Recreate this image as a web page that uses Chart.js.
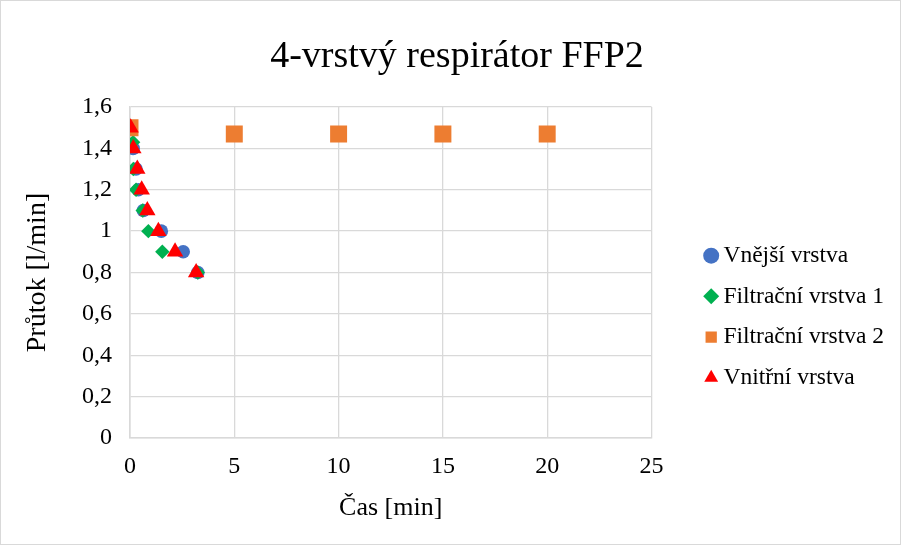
<!DOCTYPE html>
<html>
<head>
<meta charset="utf-8">
<script src="https://cdn.jsdelivr.net/npm/chart.js@4"></script>
<style>
  html, body { margin: 0; padding: 0; background: #fff; }
  #box { width: 899px; height: 543px; border: 1px solid #d9d9d9; }
</style>
</head>
<body>
<div id="box"><canvas id="graf"></canvas></div>
<script>
// data
const nazvy = ["Vnější vrstva", "Filtrační vrstva 1", "Filtrační vrstva 2", "Vnitřní vrstva"];

const vnejsiCas = [0.15, 0.29, 0.4, 0.64, 1.5, 2.55, 3.25];
const vnejsiPrutok = [1.4, 1.3, 1.2, 1.1, 1.0, 0.9, 0.8];

const filtr1Cas = [0.15, 0.16, 0.29, 0.61, 0.88, 1.55, 3.25];
const filtr1Prutok = [1.43, 1.3, 1.2, 1.1, 1.0, 0.9, 0.8];

const filtr2Cas = [0, 5, 10, 15, 20];
const filtr2Prutok = [1.5, 1.47, 1.47, 1.47, 1.47];

const vnitrniCas = [0.03, 0.16, 0.35, 0.56, 0.83, 1.36, 2.16, 3.17];
const vnitrniPrutok = [1.5, 1.4, 1.3, 1.2, 1.1, 1.0, 0.9, 0.8];

const xTicks = [0, 5, 10, 15, 20, 25];
const yTicks = [0, 0.2, 0.4, 0.6, 0.8, 1, 1.2, 1.4, 1.6];

// spojí x a y do bodů pro scatter
const body = (xs, ys) => xs.map((x, i) => ({ x: x, y: ys[i] }));

const pismo = "'Liberation Serif', 'Times New Roman', serif";
const mrizka = '#d9d9d9';
const mezeraLegendy = 42; // mezera mezi plochou grafu a legendou

// legenda je o kus širší a její položky se posunou doprava
const posunLegendy = {
  id: 'posunLegendy',
  beforeLayout(chart) {
    const lg = chart.legend;
    if (!lg || lg._rozsireno) return;
    const puvodniFit = lg.fit.bind(lg);
    lg.fit = function () { puvodniFit(); this.width += mezeraLegendy; };
    lg._rozsireno = true;
  },
  afterLayout(chart) {
    if (chart.legend) chart.legend.left += mezeraLegendy;
  }
};

new Chart(document.getElementById('graf'), {
  type: 'scatter',
  data: {
    datasets: [
      { label: nazvy[0], data: body(vnejsiCas, vnejsiPrutok), pointStyle: 'circle', pointRadius: 6.8,
        backgroundColor: '#4472C4', borderWidth: 0, order: 3 },
      { label: nazvy[1], data: body(filtr1Cas, filtr1Prutok), pointStyle: 'rectRot', pointRadius: 7.2,
        backgroundColor: '#00B050', borderWidth: 0, order: 2 },
      { label: nazvy[2], data: body(filtr2Cas, filtr2Prutok), pointStyle: 'rect', pointRadius: 12,
        backgroundColor: '#ED7D31', borderWidth: 0, order: 1 },
      { label: nazvy[3], data: body(vnitrniCas, vnitrniPrutok), pointStyle: 'triangle', pointRadius: 9.5,
        backgroundColor: '#FF0000', borderWidth: 0, order: 0 }
    ]
  },
  plugins: [posunLegendy],
  options: {
    responsive: true,
    maintainAspectRatio: false,
    animation: false,
    events: [],
    layout: { padding: { left: 19, right: 6, top: 0, bottom: 20 } },
    plugins: {
      tooltip: { enabled: false },
      title: {
        display: true,
        text: '4-vrstvý respirátor FFP2',
        color: '#000',
        font: { family: pismo, size: 38, weight: 'normal' },
        padding: { top: 33, bottom: 27.4 }
      },
      legend: {
        position: 'right',
        align: 'center',
        // prázdný titulek jen posouvá legendu dolů
        title: { display: true, text: '', padding: { top: 0, bottom: 94 } },
        labels: {
          usePointStyle: true,
          boxWidth: 1,
          boxHeight: 11.3,
          padding: 17.2,
          color: '#000',
          font: { family: pismo, size: 23.5 },
          sort: (a, b) => a.datasetIndex - b.datasetIndex
        }
      }
    },
    scales: {
      x: {
        type: 'linear',
        min: 0,
        max: 25,
        afterBuildTicks: axis => { axis.ticks = xTicks.map(v => ({ value: v })); },
        afterFit: axis => { axis.height = 86; },
        grid: { color: mrizka, lineWidth: 1.3, drawTicks: false },
        border: { color: mrizka, width: 1.6 },
        ticks: { color: '#000', padding: 14, font: { family: pismo, size: 24 } },
        title: { display: true, text: 'Čas [min]', color: '#000', padding: { top: 8, bottom: 0 },
                 font: { family: pismo, size: 26 } }
      },
      y: {
        type: 'linear',
        min: 0,
        max: 1.6,
        afterBuildTicks: axis => { axis.ticks = yTicks.map(v => ({ value: v })); },
        afterFit: axis => { axis.width = 110; },
        grid: { color: mrizka, lineWidth: 1.3, drawTicks: false },
        border: { color: mrizka, width: 1.6 },
        ticks: {
          color: '#000', padding: 18, font: { family: pismo, size: 24 },
          callback: v => String(Math.round(v * 10) / 10).replace('.', ',')
        },
        title: { display: true, text: 'Průtok [l/min]', color: '#000', padding: { top: 1, bottom: 0 },
                 font: { family: pismo, size: 28 } }
      }
    }
  }
});
</script>
</body>
</html>
